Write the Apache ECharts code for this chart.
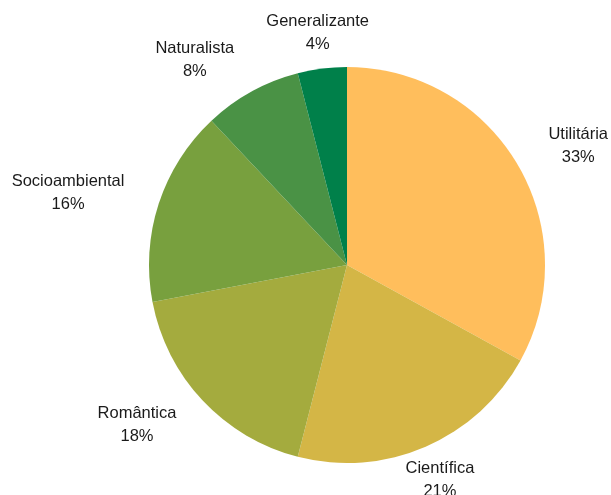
<!DOCTYPE html>
<html>
<head>
<meta charset="utf-8">
<script src="https://cdn.jsdelivr.net/npm/echarts@6/dist/echarts.min.js"></script>
<style>html,body{margin:0;padding:0;background:#fff}#c{width:611px;height:495px}</style>
</head>
<body>
<div id="c"></div>
<script>
const categories = ['Utilitária', 'Científica', 'Romântica', 'Socioambiental', 'Naturalista', 'Generalizante'];
const values = [33, 21, 18, 16, 8, 4];
const colors = ['#FFBE5C', '#D4B646', '#A4AB3E', '#78A03E', '#4A9245', '#00804A'];

const cx = 347, cy = 265, R = 198, labelR = 234;
const total = values.reduce((a, b) => a + b, 0);

const chart = echarts.init(document.getElementById('c'), null, {renderer: 'canvas'});
chart.setOption({
  animation: false,
  backgroundColor: '#ffffff',
  series: [{
    type: 'pie',
    center: [cx, cy],
    radius: R,
    startAngle: 90,
    clockwise: true,
    avoidLabelOverlap: false,
    data: categories.map((n, i) => ({name: n, value: values[i], itemStyle: {color: colors[i]}})),
    label: {
      show: true,
      position: 'outside',
      formatter: p => p.name + '\n' + p.value + '%',
      fontFamily: 'Liberation Sans, Arial, sans-serif',
      fontSize: 16.5,
      lineHeight: 23,
      color: '#1a1a1a',
      align: 'center'
    },
    labelLine: {show: false},
    emphasis: {disabled: true},
    labelLayout: function (p) {
      const i = p.dataIndex;
      let cum = 0;
      for (let j = 0; j < i; j++) cum += values[j];
      const mid = (cum + values[i] / 2) / total * Math.PI * 2;
      const s = Math.sin(mid), c = Math.cos(mid);
      const x = cx + s * labelR, y = cy - c * labelR;
      const w = p.labelRect.width;
      let xc = x;
      if (Math.abs(s) >= 0.45) xc = x + (s > 0 ? w / 2 : -w / 2);
      return {x: xc, y: y, align: 'center', verticalAlign: 'middle'};
    }
  }]
});
</script>
</body>
</html>
